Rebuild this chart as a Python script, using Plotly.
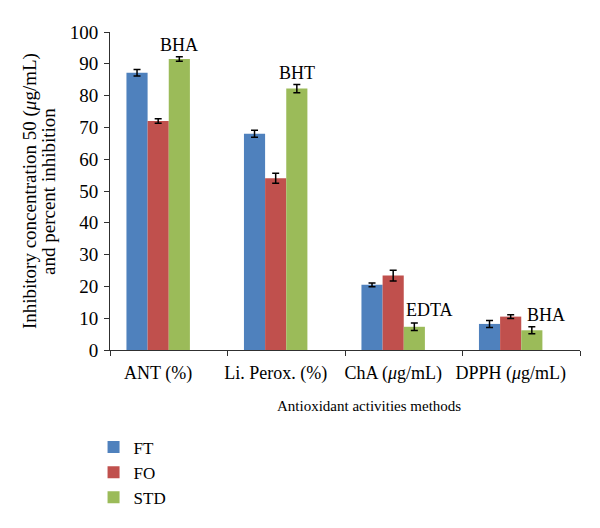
import plotly.graph_objects as go

categories = ["ANT (%)", "Li. Perox. (%)", "ChA (<i>μ</i>g/mL)", "DPPH (<i>μ</i>g/mL)"]
series_names = ["FT", "FO", "STD"]
ft_values = [87.2, 68.0, 20.5, 8.2]
fo_values = [72.0, 54.0, 23.4, 10.5]
std_values = [91.5, 82.2, 7.3, 6.2]
ft_err = [1.0, 1.1, 0.6, 1.1]
fo_err = [0.7, 1.6, 1.7, 0.6]
std_err = [0.7, 1.3, 1.2, 1.1]
std_labels = ["BHA", "BHT", "EDTA", "BHA"]
colors = ["#4F81BD", "#C0504D", "#9BBB59"]

FONT = "Liberation Serif, Times New Roman, serif"
x_idx = list(range(len(categories)))

fig = go.Figure()
for name, vals, errs, col in zip(series_names, [ft_values, fo_values, std_values],
                                  [ft_err, fo_err, std_err], colors):
    fig.add_trace(go.Bar(
        x=x_idx, y=vals, name=name, marker=dict(color=col, line=dict(width=0)),
        error_y=dict(type="data", array=errs, visible=True, color="black",
                     thickness=1.5, width=3.5),
    ))

# STD labels
bar_w = (1 - 0.46) / 3
lab_dx = [bar_w, bar_w, bar_w * 0.5, bar_w * 0.7]
lab_anchor = ["center", "center", "left", "left"]
lab_shift = [0, -1, 1, 0]
for i, (lab, v, e) in enumerate(zip(std_labels, std_values, std_err)):
    fig.add_annotation(x=i + lab_dx[i], y=v + e, text=lab, showarrow=False,
                       xanchor=lab_anchor[i], yanchor="bottom", yshift=lab_shift[i],
                       font=dict(family=FONT, size=18, color="black"))

fig.add_annotation(xref="paper", yref="paper", x=-0.17, y=0.5,
                   text="Inhibitory concentration 50 (<i>μ</i>g/mL)",
                   textangle=-90, showarrow=False, xanchor="center", yanchor="middle",
                   font=dict(family=FONT, size=19, color="black"))
fig.add_annotation(xref="paper", yref="paper", x=-0.132, y=0.5,
                   text="<span>and percent inhibition</span>",
                   textangle=-90, showarrow=False, xanchor="center", yanchor="middle",
                   font=dict(family=FONT, size=19, color="black"))
fig.add_annotation(xref="paper", yref="paper", x=0.55, y=-0.175,
                   text="<span>Antioxidant activities methods</span>", showarrow=False,
                   xanchor="center", yanchor="middle",
                   font=dict(family=FONT, size=15, color="black"))

# page body has an 8px margin, so the figure is 8px smaller and offsets are shifted
fig.update_layout(
    width=592, height=520,
    margin=dict(l=102, r=20, t=24, b=176),
    paper_bgcolor="white", plot_bgcolor="white",
    barmode="group", bargap=0.46, bargroupgap=0,
    font=dict(family=FONT, size=19, color="black"),
    showlegend=True,
    legend=dict(orientation="v", x=-0.035, y=-0.25, xanchor="left", yanchor="top",
                font=dict(family=FONT, size=17, color="black"),
                itemsizing="constant", tracegroupgap=2),
    xaxis=dict(range=[-0.41, 3.59], tickvals=x_idx, ticktext=categories,
               ticks="", showline=True, linecolor="#303030", linewidth=1,
               showgrid=False, zeroline=False, tickfont=dict(family=FONT, size=18),
               ticklabelstandoff=6,
               minor=dict(tick0=-0.41, dtick=1, ticks="outside", ticklen=5,
                          tickcolor="#303030", showgrid=False)),
    yaxis=dict(range=[0, 100], dtick=10, ticks="outside", ticklen=5,
               tickcolor="#303030", showline=True, linecolor="#303030",
               linewidth=1, showgrid=False, zeroline=False,
               tickfont=dict(family=FONT, size=19), ticklabelstandoff=2),
)

fig.write_html("out.html")
